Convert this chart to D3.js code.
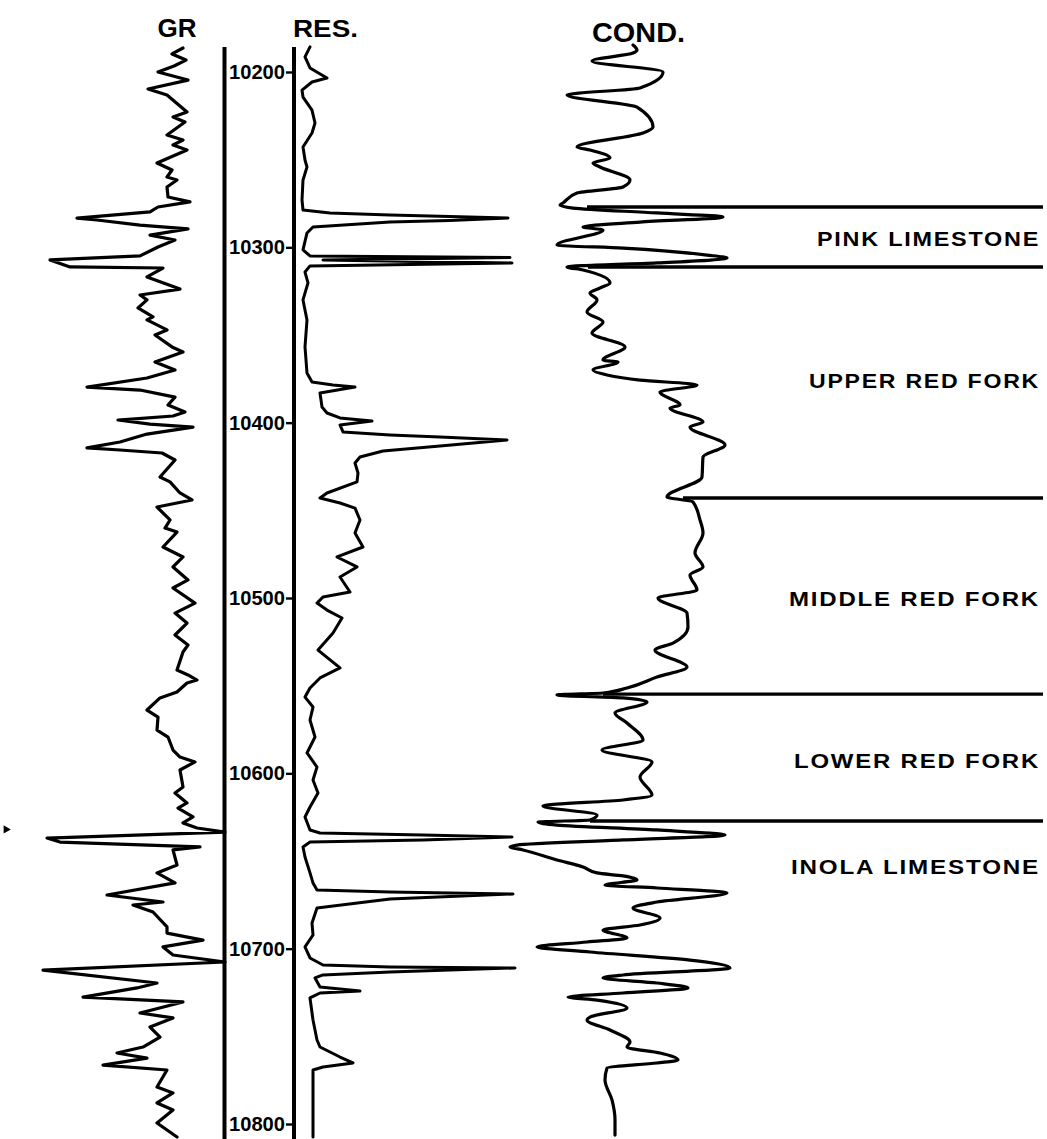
<!DOCTYPE html>
<html>
<head>
<meta charset="utf-8">
<script src="https://cdn.jsdelivr.net/npm/d3@7"></script>
<style>
  html, body { margin: 0; padding: 0; background: #fff; }
  svg { display: block; }
  text { font-family: "Liberation Sans", Arial, sans-serif; font-weight: bold; fill: #000; }
</style>
</head>
<body>
<svg id="chart" width="1047" height="1139"></svg>
<script>
// ---------------- DATA ----------------
const depthTicks = [10200, 10300, 10400, 10500, 10600, 10700, 10800];
const trackTitles = ["GR", "RES.", "COND."];

// Gamma ray [depth ft, API]
const grLog = [
 [10186.3,157],[10189.7,146],[10193.2,160],[10196.6,148],[10200.0,132],[10204.6,162],[10209.7,122],
 [10213.1,141],[10222.8,161],[10225.7,147],[10228.5,159],[10235.9,141],[10238.8,157],[10241.6,147],
 [10244.5,161],[10251.9,131],[10255.9,146],[10259.9,141],[10261.6,151],[10265.6,141],[10271.3,142],
 [10274.1,164],[10277.0,132],[10279.8,124],[10283.3,51],[10284.4,71],[10287.3,114],[10289.5,162],
 [10293.0,124],[10295.8,149],[10299.8,132],[10304.9,114],[10307.2,24],[10311.2,44],[10311.8,137],
 [10316.9,121],[10323.8,154],[10327.2,114],[10330.0,121],[10334.6,112],[10339.7,127],[10341.4,121],
 [10347.1,141],[10350.0,129],[10356.8,146],[10359.7,157],[10365.4,129],[10370.0,149],[10374.5,121],
 [10379.7,61],[10381.4,114],[10385.4,149],[10389.9,142],[10393.9,159],[10396.2,147],[10398.5,92],
 [10400.8,124],[10402.5,167],[10406.5,121],[10411.0,94],[10414.4,61],[10415.6,94],[10417.3,136],
 [10421.3,149],[10431.0,134],[10433.8,144],[10440.1,154],[10444.1,166],[10448.1,131],[10455.5,144],
 [10460.1,139],[10462.4,151],[10470.9,137],[10476.6,157],[10482.3,147],[10489.7,162],[10494.3,147],
 [10502.9,169],[10508.6,149],[10514.3,161],[10521.1,149],[10526.8,162],[10530.8,157],[10541.1,151],
 [10543.9,162],[10546.8,171],[10548.5,161],[10553.6,151],[10557.0,134],[10563.9,121],[10567.9,132],
 [10575.3,131],[10579.3,142],[10586.7,147],[10590.7,154],[10593.5,169],[10598.1,154],[10607.8,157],
 [10611.2,149],[10616.9,161],[10619.8,152],[10624.9,167],[10628.3,157],[10631.2,171],[10633.5,199],
 [10636.9,21],[10639.2,34],[10642.0,174],[10643.7,147],[10652.3,151],[10656.8,131],[10662.5,149],
 [10669.4,81],[10673.4,137],[10675.1,107],[10679.1,127],[10687.6,141],[10691.1,141],[10695.1,177],
 [10699.0,137],[10703.6,147],[10707.6,199],[10712.2,17],[10719.6,131],[10722.4,111],[10727.6,57],
 [10730.4,157],[10736.7,114],[10739.5,147],[10744.7,124],[10750.4,134],[10756.1,117],[10759.5,91],
 [10762.4,121],[10766.4,77],[10769.2,141],[10778.9,131],[10782.3,147],[10788.0,131],[10792.0,147],
 [10799.4,131],[10807.4,151]
];

// Resistivity [depth ft, ohm-m]
const resLog = [
 [10185.7,17],[10191.4,12],[10197.7,17],[10203.4,34],[10205.7,19],[10210.3,9],[10214.3,10],
 [10221.7,19],[10229.1,22],[10234.8,19],[10242.8,10],[10250.2,12],[10254.2,14],[10261.6,10],
 [10273.0,9],[10278.7,10],[10280.4,37],[10281.6,97],[10282.4,157],[10283.3,215],[10284.7,157],
 [10285.6,97],[10288.4,20],[10291.8,14],[10301.5,10],[10304.9,17],[10305.8,217],[10307.2,30],
 [10308.9,219],[10310.6,17],[10314.1,12],[10320.3,15],[10330.0,10],[10341.4,14],[10356.8,12],
 [10371.7,14],[10376.8,19],[10378.5,40],[10379.7,62],[10383.1,27],[10391.1,29],[10394.5,34],
 [10397.3,47],[10399.1,79],[10401.3,47],[10405.3,50],[10407.0,97],[10408.2,147],[10409.9,214],
 [10413.3,147],[10416.2,90],[10419.6,67],[10423.0,62],[10428.7,65],[10433.8,64],[10440.1,34],
 [10443.0,27],[10445.8,47],[10448.7,62],[10455.5,67],[10462.9,62],[10470.9,70],[10476.6,44],
 [10482.3,64],[10488.0,47],[10496.6,57],[10499.4,30],[10502.9,24],[10506.9,34],[10511.4,49],
 [10520.0,40],[10529.7,25],[10539.9,47],[10545.6,27],[10551.3,17],[10556.5,12],[10562.2,20],
 [10569.6,17],[10579.3,22],[10588.4,14],[10596.4,24],[10603.8,20],[10611.2,25],[10619.2,17],
 [10624.9,12],[10632.3,17],[10634.0,27],[10635.2,130],[10636.3,219],[10638.0,130],[10639.2,17],
 [10642.0,10],[10647.7,12],[10656.8,17],[10662.5,20],[10666.5,24],[10667.7,97],[10668.8,220],
 [10671.7,97],[10676.8,24],[10685.4,19],[10692.2,20],[10699.0,12],[10705.3,17],[10709.3,30],
 [10710.4,97],[10711.0,222],[10713.3,97],[10715.0,30],[10716.7,22],[10721.9,27],[10724.2,67],
 [10725.3,27],[10728.1,17],[10740.7,20],[10752.1,24],[10756.1,27],[10761.8,47],[10765.2,60],
 [10767.5,30],[10769.2,20],[10786.3,20],[10807.4,20]
];

// Conductivity [depth ft, mmho/m]
const condLog = [
 [10184.6,266],[10187.5,274],[10189.2,266],[10193.7,184],[10200.0,326],[10209.1,280],[10213.1,134],
 [10220.0,274],[10231.4,306],[10234.8,286],[10242.8,154],[10244.5,180],[10249.1,220],[10251.9,186],
 [10254.2,200],[10261.6,260],[10265.6,246],[10269.0,154],[10274.7,126],[10275.9,120],[10277.6,146],
 [10280.4,314],[10282.7,446],[10285.6,280],[10288.4,166],[10290.1,206],[10298.7,114],[10300.4,246],
 [10304.4,414],[10306.1,454],[10308.9,314],[10311.2,134],[10312.9,166],[10320.3,220],[10323.2,200],
 [10326.0,180],[10330.0,194],[10336.9,174],[10342.6,206],[10348.9,184],[10356.8,250],[10364.3,206],
 [10365.4,236],[10370.0,186],[10372.8,214],[10375.7,280],[10378.5,394],[10382.5,320],[10389.9,360],
 [10391.6,340],[10399.6,406],[10402.5,380],[10412.7,450],[10419.6,406],[10431.0,404],[10442.4,334],
 [10445.2,386],[10455.5,400],[10462.9,406],[10474.3,390],[10482.3,406],[10486.9,380],[10495.4,394],
 [10500.0,316],[10508.6,374],[10516.5,376],[10525.7,346],[10529.7,310],[10539.4,374],[10545.1,314],
 [10551.3,254],[10554.2,206],[10555.3,114],[10557.0,246],[10559.3,294],[10565.6,230],[10571.3,254],
 [10581.0,286],[10586.7,204],[10593.5,304],[10602.1,280],[10612.4,304],[10615.2,246],[10618.6,86],
 [10623.8,194],[10626.6,180],[10627.8,76],[10629.5,114],[10632.3,314],[10635.2,450],[10638.0,246],
 [10640.9,34],[10642.0,20],[10643.7,46],[10649.4,114],[10653.4,166],[10656.8,194],[10658.5,246],
 [10660.8,274],[10663.7,210],[10665.4,314],[10668.3,454],[10673.4,314],[10676.8,266],[10682.5,320],
 [10686.5,280],[10689.4,206],[10693.9,254],[10696.2,174],[10699.0,74],[10701.9,180],[10706.5,380],
 [10711.0,460],[10715.0,246],[10716.7,206],[10719.6,314],[10722.4,376],[10725.3,246],[10727.6,136],
 [10729.3,194],[10733.8,254],[10739.0,180],[10740.7,174],[10746.4,220],[10753.2,260],[10756.1,254],
 [10759.5,320],[10763.5,356],[10765.2,314],[10768.1,214],[10774.9,210],[10786.3,224],[10797.7,230],
 [10806.3,230]
];

// Formation tops: depth (ft) and COND reading where the top line starts
const topDepths = [10277.0, 10311.2, 10443.0, 10554.8, 10627.2];
const topStartCond = [174, 176, 366, 206, 180];

// Formation names and the depth of their label
const formationNames = ["PINK LIMESTONE", "UPPER RED FORK", "MIDDLE RED FORK", "LOWER RED FORK", "INOLA LIMESTONE"];
const formationLabelDepths = [10295.2, 10376.2, 10500.6, 10593.0, 10653.4];

// ---------------- LAYOUT ----------------
const W = 1047, H = 1139;
const svg = d3.select("#chart");
svg.append("rect").attr("width", W).attr("height", H).attr("fill", "#fff");

const y = d3.scaleLinear().domain([10200, 10800]).range([72, 1124]);
const xGR = d3.scaleLinear().domain([0, 200]).range([26, 226]);
const xRES = d3.scaleLinear().domain([0, 250]).range([293, 543]);
const xCOND = d3.scaleLinear().domain([0, 500]).range([500, 750]);

const trackTop = 47;

// depth track borders
[224.5, 294].forEach(x => {
  svg.append("line").attr("x1", x).attr("x2", x).attr("y1", trackTop).attr("y2", H)
    .attr("stroke", "#000").attr("stroke-width", 4);
});

// depth axis
const axis = d3.axisLeft(y).tickValues(depthTicks).tickFormat(d3.format("d"))
  .tickSizeInner(8).tickSizeOuter(0).tickPadding(1);
const gAxis = svg.append("g").attr("transform", "translate(294,0)").call(axis);
gAxis.select(".domain").remove();
gAxis.selectAll(".tick line").attr("stroke", "#000").attr("stroke-width", 2.4);
gAxis.selectAll(".tick text")
  .attr("font-family", "'Liberation Sans', Arial, sans-serif")
  .attr("font-weight", "bold").attr("font-size", 20).attr("fill", "#000")
  .attr("textLength", 56).attr("lengthAdjust", "spacingAndGlyphs");

// track titles
svg.append("text").attr("x", 177).attr("y", 37).attr("text-anchor", "middle")
  .attr("font-size", 25).attr("textLength", 39).attr("lengthAdjust", "spacingAndGlyphs").text(trackTitles[0]);
svg.append("text").attr("x", 293).attr("y", 37)
  .attr("font-size", 24).attr("textLength", 65).attr("lengthAdjust", "spacingAndGlyphs").text(trackTitles[1]);
svg.append("text").attr("x", 592).attr("y", 42)
  .attr("font-size", 28).attr("textLength", 93).attr("lengthAdjust", "spacingAndGlyphs").text(trackTitles[2]);

// curves
function drawLog(data, xs, curve, sw) {
  const line = d3.line().x(d => xs(d[1])).y(d => y(d[0])).curve(curve);
  svg.append("path").datum(data).attr("d", line)
    .attr("fill", "none").attr("stroke", "#000").attr("stroke-width", sw)
    .attr("stroke-linejoin", "round").attr("stroke-linecap", "round");
}
drawLog(grLog, xGR, d3.curveLinear, 3.2);
drawLog(resLog, xRES, d3.curveLinear, 3);
drawLog(condLog, xCOND, d3.curveMonotoneY, 3.2);

// formation tops
topDepths.forEach((d, i) => {
  svg.append("line").attr("x1", xCOND(topStartCond[i])).attr("x2", 1043)
    .attr("y1", y(d)).attr("y2", y(d))
    .attr("stroke", "#000").attr("stroke-width", 3.4);
});

// formation labels
const labelWidths = [223, 231, 251, 246, 249];
formationNames.forEach((n, i) => {
  svg.append("text").attr("x", 1040).attr("y", y(formationLabelDepths[i]))
    .attr("dy", "0.36em").attr("text-anchor", "end")
    .attr("font-size", 20).attr("letter-spacing", 1.5)
    .attr("textLength", labelWidths[i]).attr("lengthAdjust", "spacingAndGlyphs")
    .text(n);
});

// depth marker arrow at left edge
svg.append("path")
  .attr("d", d3.symbol().type(d3.symbolTriangle).size(30))
  .attr("transform", `translate(6,${y(10632)}) rotate(90)`)
  .attr("fill", "#000");
</script>
</body>
</html>
